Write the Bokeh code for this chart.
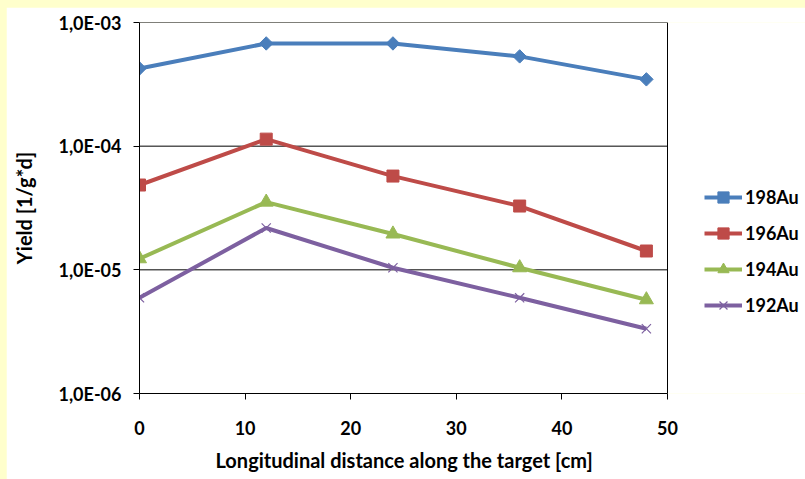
import math
from bokeh.plotting import figure
from bokeh.models import (Range1d, FixedTicker, CustomJSTickFormatter, Legend, LegendItem, Span, Title)
from bokeh.embed import file_html
from bokeh.resources import INLINE

# ---- data ----
distance_cm = [0, 12, 24, 36, 48]
y_198au = [4.25e-4, 6.77e-4, 6.77e-4, 5.32e-4, 3.47e-4]
y_196au = [4.85e-5, 1.14e-4, 5.73e-5, 3.28e-5, 1.42e-5]
y_194au = [1.23e-5, 3.53e-5, 1.95e-5, 1.04e-5, 5.73e-6]
y_192au = [5.94e-6, 2.18e-5, 1.04e-5, 5.94e-6, 3.34e-6]
series_names = ["198Au", "196Au", "194Au", "192Au"]
x_min, x_max = 0, 50
x_ticks = [0, 10, 20, 30, 40, 50]
y_ticks = [1e-6, 1e-5, 1e-4, 1e-3]
y_tick_labels = ["1,0E-06", "1,0E-05", "1,0E-04", "1,0E-03"]
x_title = "Longitudinal distance along the target [cm]"
y_title = "Yield [1/g*d]"

FONT = "Lato"

# layout (pixels)
W, H = 799, 472
LEFT, TOP, BOTTOM = 133, 15, 86
PLOT_W = 528           # width of the data area (0..50)
FRAME_W = W - LEFT     # frame extends to the right edge, legend lives there
x_end = x_max + (FRAME_W - PLOT_W) * (x_max - x_min) / PLOT_W

p = figure(width=W, height=H, y_axis_type="log",
           x_range=Range1d(x_min, x_end), y_range=Range1d(y_ticks[0], y_ticks[-1]),
           output_backend="svg", toolbar_location=None,
           min_border_left=LEFT, min_border_right=0,
           min_border_top=TOP, min_border_bottom=BOTTOM,
           background_fill_color="white", border_fill_color="white")

p.outline_line_color = None

yt = FixedTicker(ticks=y_ticks, minor_ticks=[])
p.yaxis.ticker = yt
p.yaxis.formatter = CustomJSTickFormatter(args=dict(vals=y_ticks, labs=y_tick_labels), code="""
const i = vals.findIndex(v => Math.abs(Math.log10(v) - Math.log10(tick)) < 1e-6);
return i >= 0 ? labs[i] : '';
""")
p.xaxis.ticker = FixedTicker(ticks=x_ticks, minor_ticks=[])
p.xaxis.bounds = (x_min, x_max)
p.xgrid.visible = False
p.ygrid.visible = False

# horizontal gridlines limited to the plot area (0..50)
p.segment(x0=[x_min] * len(y_ticks), x1=[x_max] * len(y_ticks), y0=y_ticks, y1=y_ticks,
          line_color="black", line_width=1)
# right border of the plot area
p.add_layout(Span(location=x_max, dimension="height", line_color="black", line_width=1))

for ax in (p.xaxis, p.yaxis):
    ax.axis_line_color = "black"
    ax.axis_line_width = 1
    ax.major_tick_line_color = "black"
    ax.major_tick_out = 6
    ax.major_tick_in = 0
    ax.minor_tick_line_color = None
    ax.major_label_text_font = FONT
    ax.major_label_text_font_style = "bold"
    ax.major_label_text_font_size = "18px"
    ax.major_label_text_color = "black"
    ax.axis_label_text_font = FONT
    ax.axis_label_text_font_style = "bold"
    ax.axis_label_text_font_size = "20px"
    ax.axis_label_text_color = "black"

p.yaxis.axis_label = y_title
p.xaxis.major_label_standoff = 21
p.yaxis.major_label_standoff = 12
p.yaxis.axis_label_standoff = 19

# x-axis title, centred under the 0..50 data area
p.add_layout(Title(text=x_title, align="left", offset=76, standoff=16,
                   text_font=FONT, text_font_style="bold", text_font_size="20px",
                   text_color="black"), "below")

colors = ["#4A7EBB", "#BE4B48", "#98B954", "#7D60A0"]
ys = [y_198au, y_196au, y_194au, y_192au]
markers = [("square", 9.5, math.pi / 4), ("square", 12, 0), ("triangle", 14, 0), ("x", 13, 0)]

items = []
for name, y, c, (m, s, ang) in zip(series_names, ys, colors, markers):
    ln = p.line(distance_cm, y, line_color=c, line_width=4)
    if m == "x":
        sc = p.scatter(distance_cm, y, marker=m, size=s, line_color=c, line_width=1.2)
    else:
        sc = p.scatter(distance_cm, y, marker=m, size=s, angle=ang,
                       fill_color=c, line_color=c, line_width=1)
    items.append(LegendItem(label=name, renderers=[ln, sc]))

legend = Legend(items=items, location=(PLOT_W + 37, 74),
                border_line_color=None, background_fill_alpha=0,
                padding=0, margin=0, spacing=8,
                glyph_width=38, glyph_height=28, label_height=28,
                label_standoff=3,
                label_text_font=FONT, label_text_font_style="bold",
                label_text_font_size="18px", label_text_color="black")
p.add_layout(legend)

html = file_html(p, INLINE)
html = html.replace("</head>",
                    "<style>html,body{margin:0;padding:0;background:#FFFFCC;}"
                    "body{padding:7px 0 0 6px;}</style></head>", 1)
open("out.html", "w").write(html)
